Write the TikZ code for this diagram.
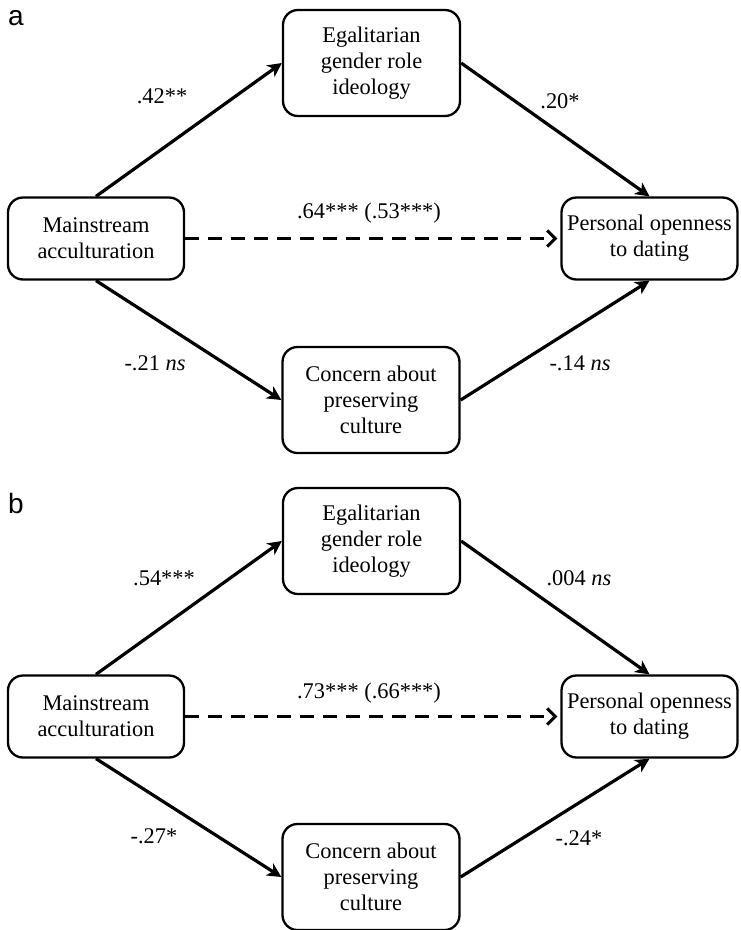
\documentclass[tikz,border=0pt]{standalone}
\usepackage{fontspec}
\setmainfont{Liberation Serif}
\newfontfamily\labelfont{Liberation Sans}
\usetikzlibrary{arrows.meta}
\begin{document}
\begin{tikzpicture}[x=1pt,y=-1pt,
  box/.style={draw, line width=2.3pt, rounded corners=15pt, align=center, inner sep=0pt,
    font=\fontsize{22.4}{26}\selectfont},
  wbox/.style={box, minimum width=177pt, minimum height=106pt},
  sbox/.style={box, minimum width=176pt, minimum height=82pt},
  path/.style={line width=3.2pt, -{Stealth[length=14pt,width=14pt,inset=4pt]}},
  direct/.style={line width=3.2pt, dash pattern=on 14pt off 9pt, shorten >=3pt,
    -{Straight Barb[length=8pt,width=16pt,line width=3pt]}},
  coef/.style={font=\fontsize{22.4}{26}\selectfont, inner sep=0pt},
  panel/.style={font=\labelfont\fontsize{28}{30}\selectfont, anchor=base west, inner sep=0pt}
]
\useasboundingbox (0,0) rectangle (740,930);

% Panel a
\node[panel] (la) at (8,25) {a};
\node[wbox] (Ea) at (371.5,63) {Egalitarian\\gender role\\ideology};
\node[sbox] (Ma) at (96,238.5) {Mainstream\\acculturation};
\node[sbox] (Pa) at (649.5,238.5) {Personal openness\\to dating};
\node[wbox] (Ca) at (371,400) {Concern about\\preserving\\culture};
\draw[path] (Ma.north) -- (Ea.west);
\draw[path] (Ea.east) -- (Pa.north);
\draw[path] (Ma.south) -- (Ca.west);
\draw[path] (Ca.east) -- (Pa.south);
\draw[direct] (Ma.east) -- (Pa.west);
\node[coef] (a1) at (162,96) {.42**};
\node[coef] (a2) at (560,101) {.20*};
\node[coef] (a3) at (369,213) {.64*** (.53***)};
\node[coef] (a4) at (155,363) {-.21 \textit{ns}};
\node[coef] (a5) at (580,363) {-.14 \textit{ns}};

% Panel b
\node[panel] (lb) at (8,513) {b};
\node[wbox] (Eb) at (371.5,541) {Egalitarian\\gender role\\ideology};
\node[sbox] (Mb) at (96,716.5) {Mainstream\\acculturation};
\node[sbox] (Pb) at (649.5,716.5) {Personal openness\\to dating};
\node[wbox] (Cb) at (371,877) {Concern about\\preserving\\culture};
\draw[path] (Mb.north) -- (Eb.west);
\draw[path] (Eb.east) -- (Pb.north);
\draw[path] (Mb.south) -- (Cb.west);
\draw[path] (Cb.east) -- (Pb.south);
\draw[direct] (Mb.east) -- (Pb.west);
\node[coef] (b1) at (164,578) {.54***};
\node[coef] (b2) at (579,578) {.004 \textit{ns}};
\node[coef] (b3) at (369,693) {.73*** (.66***)};
\node[coef] (b4) at (154,836) {-.27*};
\node[coef] (b5) at (579,838) {-.24*};
\end{tikzpicture}
\end{document}
